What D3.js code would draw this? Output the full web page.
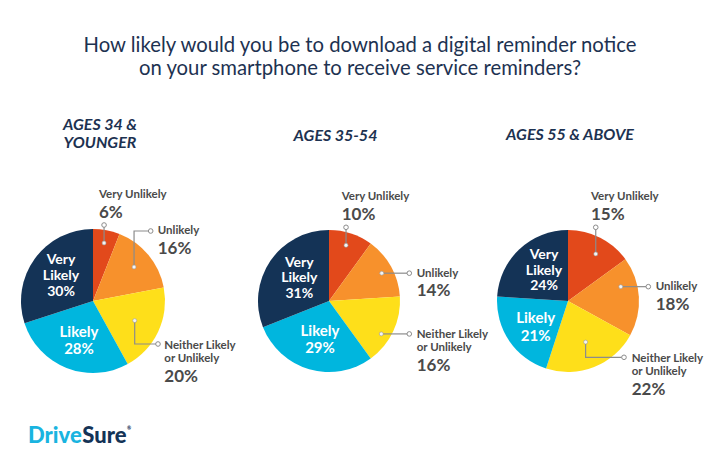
<!DOCTYPE html>
<html><head><meta charset="utf-8">
<script src="https://cdn.jsdelivr.net/npm/d3@7"></script>
<style>body{margin:0;background:#fff}svg{display:block}</style>
</head><body>
<svg id="c" width="720" height="468"></svg>
<script>
// ---- data ----
const titleLines = ["How likely would you be to download a digital reminder notice", "on your smartphone to receive service reminders?"];
const groups = [["AGES 34 &", "YOUNGER"], ["AGES 35-54"], ["AGES 55 & ABOVE"]];
const categories = ["Very Unlikely", "Unlikely", "Neither Likely or Unlikely", "Likely", "Very Likely"];
const ages34 = [6, 16, 20, 28, 30];
const ages35 = [10, 14, 16, 29, 31];
const ages55 = [15, 18, 22, 21, 24];
const seriesValues = [ages34, ages35, ages55];

// ---- styles / layout ----
const colors = ["#E2491B", "#F7912C", "#FEDF1A", "#00B6DE", "#143356"];
const navy = "#1d3251", grey = "#4a4a4a", lineC = "#8c8c8c";
const FONT = "Lato, 'Open Sans', sans-serif";
const pies = [
  {cx: 93, cy: 301, r: 72, tx: 100, ty: [130, 147.5],
   out: [
     {frac: .82, da: 0, y1: -76, x1: null, tx: 6, ty: -103},
     {frac: .74, da: 0, y1: -70, x1: 57.7, tx: 64.7, ty: -67},
     {frac: .64, da: 0, y1: 43, x1: 65, tx: 71.3, ty: 47.7}],
   inVL: {x: -32, y: -37, step: 16, fs: 14}, inL: {x: -14, y: 35.7, step: 17, fs: 15}},
  {cx: 329, cy: 301, r: 71, tx: 335.5, ty: [140.7],
   out: [
     {frac: .82, da: -1, y1: -73.7, x1: null, tx: 12.7, ty: -101},
     {frac: .84, da: 1, y1: null, x1: 80.3, tx: 87.7, ty: -24.3},
     {frac: .87, da: 7, y1: null, x1: 80.3, tx: 87.7, ty: 36.7}],
   inVL: {x: -29.7, y: -34.3, step: 15.7, fs: 14}, inL: {x: -9, y: 34.7, step: 17, fs: 15}},
  {cx: 568, cy: 301, r: 71, tx: 570, ty: [140],
   out: [
     {frac: .77, da: 3.5, y1: -73.7, x1: null, tx: 23, ty: -101},
     {frac: .77, da: -11.6, y1: null, x1: 80.3, tx: 87.7, ty: -11},
     {frac: .63, da: -1.6, y1: 56.3, x1: 56, tx: 63.7, ty: 60.7}],
   inVL: {x: -24, y: -42, step: 15.7, fs: 14}, inL: {x: -32.3, y: 22.3, step: 17.7, fs: 15}}
];

const svg = d3.select("#c");

// title
svg.append("text").attr("x", 360).attr("y", 52).attr("text-anchor", "middle")
  .attr("font-family", FONT).attr("font-size", 20.3).attr("fill", navy)
  .selectAll("tspan").data(titleLines).join("tspan")
  .attr("x", 360).attr("dy", (d, i) => i ? 23 : 0).text(d => d);

const pieGen = d3.pie().sort(null).value(d => d);

pies.forEach((p, gi) => {
  const vals = seriesValues[gi];
  const arcs = pieGen(vals);
  const arc = d3.arc().innerRadius(0).outerRadius(p.r);
  const g = svg.append("g").attr("transform", `translate(${p.cx},${p.cy})`);

  // group title
  svg.append("text").attr("text-anchor", "middle").attr("font-family", FONT)
    .attr("font-weight", 700).attr("font-style", "italic").attr("font-size", 16).attr("fill", navy)
    .selectAll("tspan").data(groups[gi]).join("tspan")
    .attr("x", p.tx).attr("y", (d, i) => p.ty[i]).text(d => d);

  g.selectAll("path.slice").data(arcs).join("path").attr("class", "slice")
    .attr("d", arc).attr("fill", (d, i) => colors[i]);

  // outside labels (first three categories)
  p.out.forEach((o, i) => {
    const a = arcs[i];
    const ang = (a.startAngle + a.endAngle) / 2 + o.da * Math.PI / 180;
    const rr = o.frac * p.r;
    const dx = rr * Math.sin(ang), dy = -rr * Math.cos(ang);
    const pts = [[dx, dy]];
    if (o.y1 !== null) pts.push([dx, o.y1]);
    if (o.x1 !== null) pts.push([o.x1, pts[pts.length - 1][1]]);
    g.append("path").attr("d", d3.line()(pts)).attr("fill", "none")
      .attr("stroke", lineC).attr("stroke-width", 1.2);
    g.append("circle").attr("cx", dx).attr("cy", dy).attr("r", 2)
      .attr("fill", "#f4f4f4").attr("stroke", "#9a9a9a").attr("stroke-width", 0.6);
    const end = pts[pts.length - 1];
    g.append("circle").attr("cx", end[0]).attr("cy", end[1]).attr("r", 2.3)
      .attr("fill", "#fff").attr("stroke", lineC).attr("stroke-width", 1);
    const nameLines = categories[i] === "Neither Likely or Unlikely" ? ["Neither Likely", "or Unlikely"] : [categories[i]];
    const t = g.append("text").attr("font-family", FONT).attr("font-weight", 700).attr("fill", grey);
    nameLines.forEach((s, k) => {
      t.append("tspan").attr("x", o.tx).attr("y", o.ty + k * 13.5).attr("font-size", 11.5).text(s);
    });
    t.append("tspan").attr("x", o.tx).attr("y", o.ty + (nameLines.length - 1) * 13.5 + 19.5)
      .attr("font-size", 17).attr("font-weight", 700).text(vals[i] + "%");
  });

  // inside labels
  const inside = [[4, ["Very", "Likely"], p.inVL], [3, ["Likely"], p.inL]];
  inside.forEach(([ci, lines, cfg]) => {
    const all = lines.concat([vals[ci] + "%"]);
    g.append("text").attr("text-anchor", "middle").attr("font-family", FONT)
      .attr("font-weight", 700).attr("font-size", cfg.fs).attr("fill", "#fff")
      .selectAll("tspan").data(all).join("tspan")
      .attr("x", cfg.x).attr("y", (d, k) => cfg.y + k * cfg.step).text(d => d);
  });
});

// logo: parts placed one after another by measured width
const logoParts = [
  {t: "Drive", c: "#19b4e0", fs: 22, dy: 0},
  {t: "Sure", c: "#143356", fs: 22, dy: 0},
  {t: "®", c: "#143356", fs: 5, dy: -13}
];
let lx = 28;
logoParts.forEach(p => {
  const t = svg.append("text").attr("x", lx).attr("y", 443 + p.dy).attr("font-family", FONT)
    .attr("font-weight", 900).attr("font-size", p.fs).attr("fill", p.c).text(p.t);
  lx += t.node().getComputedTextLength() + 0.5;
});
</script>
</body></html>
